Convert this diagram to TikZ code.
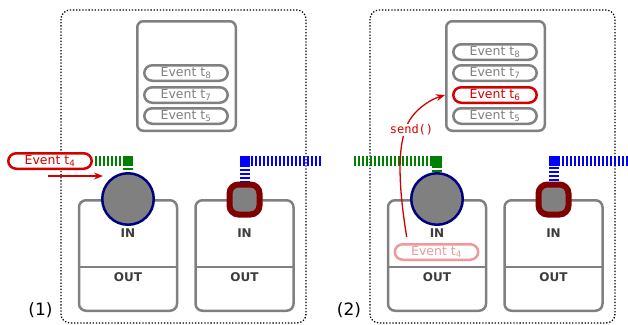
\documentclass[tikz,border=0pt]{standalone}
\usepackage{fontspec}
\setmainfont{DejaVu Sans}
\setmonofont{DejaVu Sans Mono}
\usetikzlibrary{arrows.meta}
\definecolor{boxgray}{HTML}{808080}
\definecolor{evred}{HTML}{D40000}
\definecolor{fadered}{HTML}{EE9A9A}
\definecolor{innavy}{HTML}{000080}
\definecolor{sqmaroon}{HTML}{800000}
\definecolor{lbldark}{HTML}{3C3C3C}
\definecolor{wireblue}{HTML}{0000FF}
\definecolor{wiregreen}{HTML}{008000}
\tikzset{
 panel/.style={draw=black, line width=1.3pt, dash pattern=on 1.3pt off 1.8pt, rounded corners=9pt},
 bufbox/.style={draw=boxgray, line width=2.5pt, rounded corners=6pt, minimum width=98.5pt, minimum height=109.5pt, inner sep=0pt},
 event/.style={draw=boxgray, text=boxgray, fill=white, line width=2.5pt, rounded corners=8pt, minimum width=83.5pt, minimum height=15.5pt, inner sep=0pt, font=\fontsize{12.5}{12.5}\selectfont},
 hot/.style={draw=evred, text=evred},
 faded/.style={draw=fadered, text=fadered},
 procbox/.style={draw=boxgray, line width=2.5pt, rounded corners=7pt, minimum width=98pt, minimum height=110.5pt, inner sep=0pt, outer sep=0pt},
 divider/.style={draw=boxgray, line width=2.5pt},
 portlbl/.style={text=lbldark, font=\fontsize{12}{12}\selectfont\bfseries},
 inport/.style={circle, draw=innavy, fill=boxgray, line width=2.5pt, minimum size=51.5pt, inner sep=0pt},
 sqport/.style={draw=sqmaroon, fill=boxgray, line width=6pt, rounded corners=9pt, minimum size=30pt, inner sep=0pt},
 wire/.style={line width=10pt, dash pattern=on 2pt off 2pt},
 wirecorner/.style={minimum size=10pt, inner sep=0pt, outer sep=0pt},
 redarrow/.style={draw=evred, line width=1.3pt, -{Stealth[length=9pt,width=7pt]}},
 stepnum/.style={font=\fontsize{17}{17}\selectfont},
 sendlbl/.style={text=evred, fill=white, inner sep=1pt, font=\ttfamily\fontsize{12}{12}\selectfont},
}
\begin{document}
\begin{tikzpicture}[x=1pt,y=-1pt]
\useasboundingbox (0,0) rectangle (628,324);
% ---------- panel 1 ----------
\draw[panel] (61,10) rectangle (306,323);
\node[bufbox] (p1buf) at (186.5,76) {};
\node[event] (p1e8) at (186,73) {Event t\textsubscript{8}};
\node[event] (p1e7) at (186,95) {Event t\textsubscript{7}};
\node[event] (p1e5) at (186,116) {Event t\textsubscript{5}};
\node[procbox] (p1pa) at (128,255.5) {};
\node[procbox] (p1pb) at (244.5,255.5) {};
\coordinate (p1div) at (0,267);
\draw[divider] (p1pa.west |- p1div) -- (p1pa.east |- p1div);
\draw[divider] (p1pb.west |- p1div) -- (p1pb.east |- p1div);
\node[portlbl] (p1ina) at (128,233) {IN};
\node[portlbl] (p1outa) at (128,277) {OUT};
\node[portlbl] (p1inb) at (244.5,233) {IN};
\node[portlbl] (p1outb) at (244.5,277) {OUT};
\node[inport] (p1in) at (128,199) {};
\node[sqport] (p1sq) at (244.5,199.5) {};
\node[event, hot] (p1t4) at (50,161) {Event t\textsubscript{4}};
\node[wirecorner, fill=wiregreen] (p1gc) at (128,161) {};
\draw[wire, wiregreen] ([xshift=2pt]p1t4.east) -- (p1gc.center) -- (p1in.north);
\node[wirecorner, fill=wireblue] (p1bc) at (244.5,161) {};
\coordinate (p1be) at (321,161);
\draw[wire, wireblue] (p1be) -- (p1bc.center) -- (p1sq.north);
\coordinate (p1as) at (48,176);
\coordinate (p1ae) at (103,176);
\draw[redarrow] (p1as) -- (p1ae);
\node[stepnum] (p1num) at (40.5,310) {(1)};
% ---------- panel 2 ----------
\begin{scope}[xshift=309pt]
\draw[panel] (61,10) rectangle (306,323);
\node[bufbox] (p2buf) at (186.5,76) {};
\node[event] (p2e8) at (186,52) {Event t\textsubscript{8}};
\node[event] (p2e7) at (186,73) {Event t\textsubscript{7}};
\node[event, hot] (p2e6) at (186,95) {Event t\textsubscript{6}};
\node[event] (p2e5) at (186,116) {Event t\textsubscript{5}};
\node[procbox] (p2pa) at (128,255.5) {};
\node[procbox] (p2pb) at (244.5,255.5) {};
\coordinate (p2div) at (0,267);
\draw[divider] (p2pa.west |- p2div) -- (p2pa.east |- p2div);
\draw[divider] (p2pb.west |- p2div) -- (p2pb.east |- p2div);
\node[portlbl] (p2ina) at (128,233) {IN};
\node[portlbl] (p2outa) at (128,277) {OUT};
\node[portlbl] (p2inb) at (244.5,233) {IN};
\node[portlbl] (p2outb) at (244.5,277) {OUT};
\node[inport] (p2in) at (128,199) {};
\node[sqport] (p2sq) at (244.5,199.5) {};
\node[event, faded] (p2t4) at (127.5,252) {Event t\textsubscript{4}};
\coordinate (p2gs) at (45,161);
\node[wirecorner, fill=wiregreen] (p2gc) at (128,161) {};
\draw[wire, wiregreen] (p2gs) -- (p2gc.center) -- (p2in.north);
\node[wirecorner, fill=wireblue] (p2bc) at (244.5,161) {};
\coordinate (p2be) at (319,161);
\draw[wire, wireblue] (p2be) -- (p2bc.center) -- (p2sq.north);
\coordinate (p2ss) at (97.7,237);
\coordinate (p2se) at (136,95);
\draw[redarrow] (p2ss) .. controls (90,190) and (88,150) .. (97,128) .. controls (102,112) and (120,100) .. (p2se);
\node[sendlbl] (p2send) at (102.5,130) {send()};
\node[stepnum] (p2num) at (40,310) {(2)};
\end{scope}
\end{tikzpicture}
\end{document}
